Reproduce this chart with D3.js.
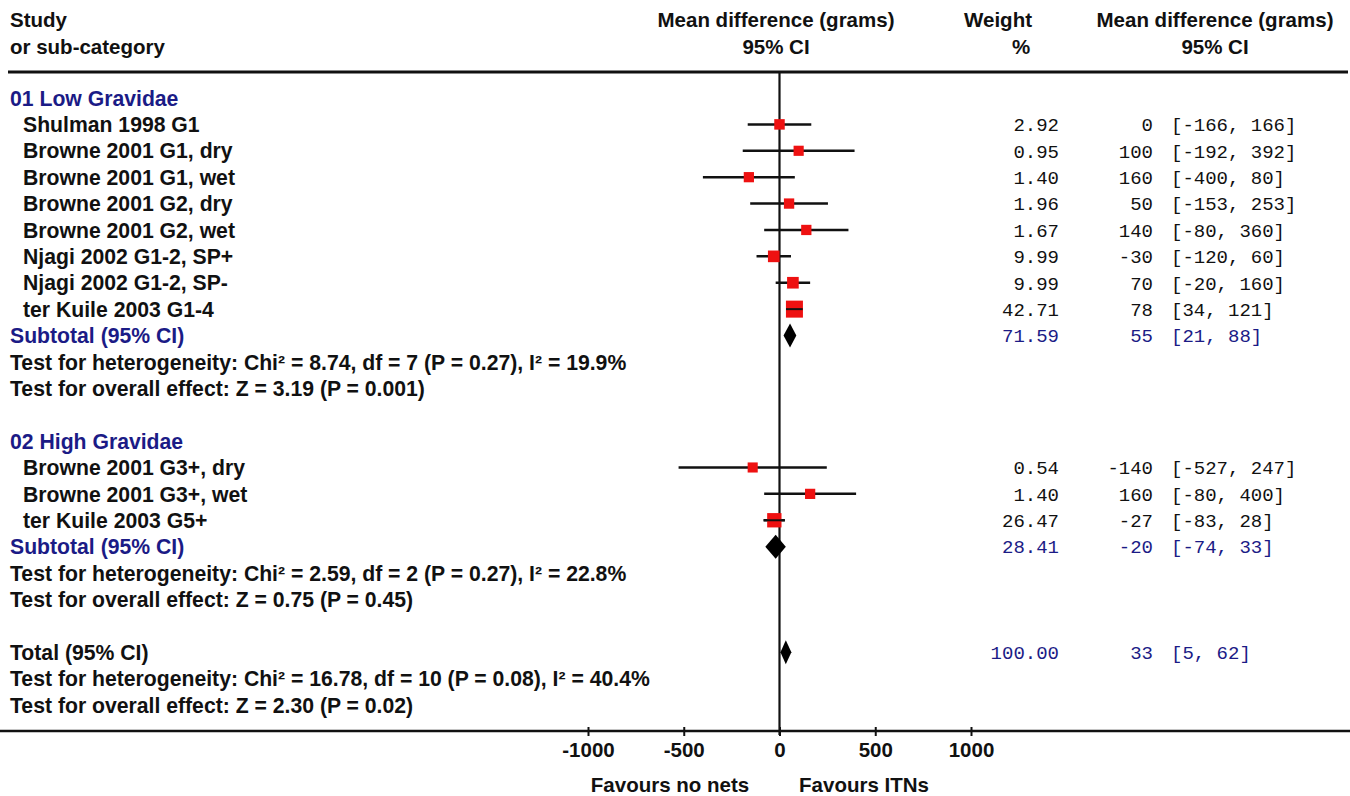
<!DOCTYPE html>
<html>
<head>
<meta charset="utf-8">
<script src="https://cdn.jsdelivr.net/npm/d3@7"></script>
<style>
  body { margin: 0; background: #fff; }
  text { font-family: "Liberation Sans", Arial, sans-serif; font-weight: bold; }
  .mono { font-family: "Liberation Mono", "DejaVu Sans Mono", monospace; font-weight: normal; }
</style>
</head>
<body>
<div id="forest"></div>
<script>
// study rows
const studies = ["Shulman 1998 G1", "Browne 2001 G1, dry", "Browne 2001 G1, wet", "Browne 2001 G2, dry",
  "Browne 2001 G2, wet", "Njagi 2002 G1-2, SP+", "Njagi 2002 G1-2, SP-", "ter Kuile 2003 G1-4",
  "Browne 2001 G3+, dry", "Browne 2001 G3+, wet", "ter Kuile 2003 G5+"];
const studyRows = [1, 2, 3, 4, 5, 6, 7, 8, 14, 15, 16];
const means  = [0, 100, -160, 50, 140, -30, 70, 78, -140, 160, -27];
const lower  = [-166, -192, -400, -153, -80, -120, -20, 34, -527, -80, -83];
const upper  = [166, 392, 80, 253, 360, 60, 160, 121, 247, 400, 28];
const weights = [2.92, 0.95, 1.40, 1.96, 1.67, 9.99, 9.99, 42.71, 0.54, 1.40, 26.47];
// mean column text as printed
const meanText = ["0", "100", "160", "50", "140", "-30", "70", "78", "-140", "160", "-27"];

// pooled rows (two subtotals + total)
const pooledLabels = ["Subtotal (95% CI)", "Subtotal (95% CI)", "Total (95% CI)"];
const pooledRows = [9, 17, 21];
const pooledMeans = [55, -20, 33];
const pooledLower = [21, -74, 5];
const pooledUpper = [88, 33, 62];
const pooledWeights = [71.59, 28.41, 100.00];

const groupLabels = ["01 Low Gravidae", "02 High Gravidae"];
const groupRows = [0, 13];

const testLines = [
  "Test for heterogeneity: Chi\u00b2 = 8.74, df = 7 (P = 0.27), I\u00b2 = 19.9%",
  "Test for overall effect: Z = 3.19 (P = 0.001)",
  "Test for heterogeneity: Chi\u00b2 = 2.59, df = 2 (P = 0.27), I\u00b2 = 22.8%",
  "Test for overall effect: Z = 0.75 (P = 0.45)",
  "Test for heterogeneity: Chi\u00b2 = 16.78, df = 10 (P = 0.08), I\u00b2 = 40.4%",
  "Test for overall effect: Z = 2.30 (P = 0.02)"];
const testRows = [10, 11, 18, 19, 22, 23];

const xTicks = [-1000, -500, 0, 500, 1000];

const width = 1350, height = 796;
const navy = "#1b1b86";
const fs = "20.5px";

const svg = d3.select("#forest").append("svg")
  .attr("width", width).attr("height", height);

// scales
const x = d3.scaleLinear().domain([-1000, 1000]).range([588, 971]);
const y = d3.scaleLinear().domain([0, 23]).range([98, 705]);
const boxSize = d3.scaleLinear().domain([0, 42.71]).range([10, 17]);
const axisY = 731;

// header
const head = svg.append("g").style("font-size", fs).attr("fill", "#111");
head.append("text").attr("x", 10).attr("y", 27).text("Study");
head.append("text").attr("x", 10).attr("y", 54).text("or sub-category");
head.append("text").attr("x", 776).attr("y", 27).attr("text-anchor", "middle").text("Mean difference (grams)");
head.append("text").attr("x", 776).attr("y", 54).attr("text-anchor", "middle").text("95% CI");
head.append("text").attr("x", 1032).attr("y", 27).attr("text-anchor", "end").text("Weight");
head.append("text").attr("x", 1021).attr("y", 54).attr("text-anchor", "middle").text("%");
head.append("text").attr("x", 1215).attr("y", 27).attr("text-anchor", "middle").text("Mean difference (grams)");
head.append("text").attr("x", 1215).attr("y", 54).attr("text-anchor", "middle").text("95% CI");

// top rule
svg.append("line").attr("x1", 8).attr("x2", 1348).attr("y1", 72).attr("y2", 72)
  .attr("stroke", "#111").attr("stroke-width", 3);

// null line
svg.append("line").attr("x1", x(0)).attr("x2", x(0)).attr("y1", 72).attr("y2", axisY + 4)
  .attr("stroke", "#111").attr("stroke-width", 2.2);

// axis
const axis = svg.append("g").attr("transform", `translate(0,${axisY})`)
  .call(d3.axisBottom(x).tickValues(xTicks).tickSize(5).tickFormat(d => String(d)));
axis.select(".domain").remove();
axis.selectAll(".tick line").attr("stroke", "#111").attr("stroke-width", 2).attr("y1", -4);
axis.selectAll(".tick text").attr("fill", "#111").style("font-size", fs)
  .style("font-family", "Liberation Sans, Arial, sans-serif").style("font-weight", "bold")
  .attr("y", 11);
svg.append("line").attr("x1", 0).attr("x2", 1350).attr("y1", axisY).attr("y2", axisY)
  .attr("stroke", "#111").attr("stroke-width", 2.5);

svg.append("text").attr("x", 670).attr("y", 792).attr("text-anchor", "middle")
  .style("font-size", fs).attr("fill", "#111").text("Favours no nets");
svg.append("text").attr("x", 864).attr("y", 792).attr("text-anchor", "middle")
  .style("font-size", fs).attr("fill", "#111").text("Favours ITNs");

// left text
const left = svg.append("g").style("font-size", "21.2px");
left.selectAll(".grp").data(groupLabels).join("text")
  .attr("x", 10).attr("y", (d, i) => y(groupRows[i])).attr("dy", "0.36em")
  .attr("fill", navy).text(d => d);
left.selectAll(".study").data(studies).join("text")
  .attr("x", 23).attr("y", (d, i) => y(studyRows[i])).attr("dy", "0.36em")
  .attr("fill", "#111").text(d => d);
left.selectAll(".pool").data(pooledLabels).join("text")
  .attr("x", 10).attr("y", (d, i) => y(pooledRows[i])).attr("dy", "0.36em")
  .attr("fill", (d, i) => i < 2 ? navy : "#111").text(d => d);
left.selectAll(".test").data(testLines).join("text")
  .attr("x", 10).attr("y", (d, i) => y(testRows[i])).attr("dy", "0.36em")
  .attr("fill", "#111").text(d => d);

// CI lines and boxes
const marks = svg.append("g");
marks.selectAll(".ci").data(studies).join("line")
  .attr("x1", (d, i) => x(lower[i])).attr("x2", (d, i) => x(upper[i]))
  .attr("y1", (d, i) => y(studyRows[i])).attr("y2", (d, i) => y(studyRows[i]))
  .attr("stroke", "#111").attr("stroke-width", 2.5);
marks.selectAll(".box").data(studies).join("rect")
  .attr("x", (d, i) => x(means[i]) - boxSize(weights[i]) / 2)
  .attr("y", (d, i) => y(studyRows[i]) - boxSize(weights[i]) / 2)
  .attr("width", (d, i) => boxSize(weights[i]))
  .attr("height", (d, i) => boxSize(weights[i]))
  .attr("fill", "#ee1111");
// CI shows through the largest boxes
marks.selectAll(".ci2").data(studies).join("line")
  .attr("x1", (d, i) => x(lower[i])).attr("x2", (d, i) => x(upper[i]))
  .attr("y1", (d, i) => y(studyRows[i])).attr("y2", (d, i) => y(studyRows[i]))
  .attr("stroke", "#111").attr("stroke-width", 2)
  .attr("opacity", (d, i) => weights[i] > 20 ? 1 : 0);

// diamonds
marks.selectAll(".diamond").data(pooledLabels).join("path")
  .attr("d", (d, i) => {
    const cy = y(pooledRows[i]), h = 12;
    return `M${x(pooledLower[i])},${cy} L${x(pooledMeans[i])},${cy - h} L${x(pooledUpper[i])},${cy} L${x(pooledMeans[i])},${cy + h} Z`;
  })
  .attr("fill", "#000");

// right columns
const fmt = d3.format(".2f");
const right = svg.append("g").style("font-size", "19px");
right.selectAll(".w").data(weights).join("text").attr("class", "mono")
  .attr("x", 1059).attr("y", (d, i) => y(studyRows[i])).attr("dy", "0.36em")
  .attr("text-anchor", "end").attr("fill", "#111").text(d => fmt(d));
right.selectAll(".m").data(meanText).join("text").attr("class", "mono")
  .attr("x", 1153).attr("y", (d, i) => y(studyRows[i])).attr("dy", "0.36em")
  .attr("text-anchor", "end").attr("fill", "#111").text(d => d);
right.selectAll(".c").data(studies).join("text").attr("class", "mono")
  .attr("x", 1171).attr("y", (d, i) => y(studyRows[i])).attr("dy", "0.36em")
  .attr("fill", "#111").text((d, i) => `[${lower[i]}, ${upper[i]}]`);

right.selectAll(".pw").data(pooledWeights).join("text").attr("class", "mono")
  .attr("x", 1059).attr("y", (d, i) => y(pooledRows[i])).attr("dy", "0.36em")
  .attr("text-anchor", "end").attr("fill", navy).text(d => fmt(d));
right.selectAll(".pm").data(pooledMeans).join("text").attr("class", "mono")
  .attr("x", 1153).attr("y", (d, i) => y(pooledRows[i])).attr("dy", "0.36em")
  .attr("text-anchor", "end").attr("fill", navy).text(d => d);
right.selectAll(".pc").data(pooledMeans).join("text").attr("class", "mono")
  .attr("x", 1171).attr("y", (d, i) => y(pooledRows[i])).attr("dy", "0.36em")
  .attr("fill", navy).text((d, i) => `[${pooledLower[i]}, ${pooledUpper[i]}]`);
</script>
</body>
</html>
